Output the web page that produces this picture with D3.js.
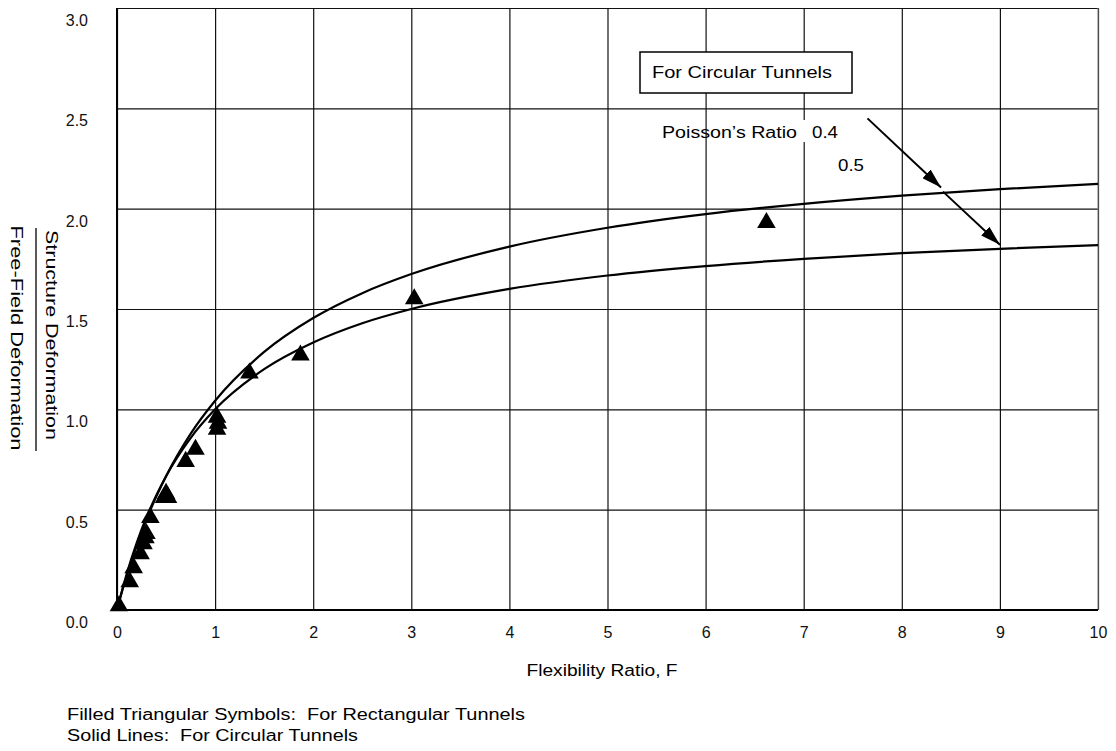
<!DOCTYPE html>
<html>
<head>
<meta charset="utf-8">
<script src="https://cdn.jsdelivr.net/npm/d3@7"></script>
<style>
  body { margin: 0; background: #fff; }
  svg { display: block; font-family: "Liberation Sans", Arial, Helvetica, sans-serif; }
</style>
</head>
<body>
<svg id="chart" width="1116" height="751"></svg>
<script>
// tick values
var xTicks = [0, 1, 2, 3, 4, 5, 6, 7, 8, 9, 10];
var yTicks = [0, 0.5, 1.0, 1.5, 2.0, 2.5, 3.0];

// solid lines (circular tunnels)
var curveF = [0, 0.05, 0.1, 0.2, 0.3, 0.4, 0.5, 0.75, 1, 1.5, 2, 2.5, 3, 4, 5, 6, 7, 8, 9, 10];
var nu04 = [0, 0.09, 0.17, 0.32, 0.45, 0.565, 0.667, 0.878, 1.043, 1.286, 1.455, 1.579, 1.674, 1.811, 1.905, 1.973, 2.024, 2.065, 2.097, 2.124];
var nu05 = [0, 0.095, 0.182, 0.333, 0.462, 0.571, 0.667, 0.857, 1.0, 1.2, 1.333, 1.429, 1.5, 1.6, 1.667, 1.714, 1.75, 1.778, 1.8, 1.818];

// filled triangles (rectangular tunnels)
var triF = [0.02, 0.13, 0.17, 0.24, 0.27, 0.29, 0.30, 0.34, 0.48, 0.50, 0.52, 0.70, 0.80, 1.02, 1.03, 1.02, 1.35, 1.87, 3.03, 6.62];
var triV = [0.02, 0.14, 0.21, 0.28, 0.33, 0.36, 0.38, 0.46, 0.56, 0.58, 0.56, 0.74, 0.80, 0.90, 0.93, 0.96, 1.18, 1.27, 1.55, 1.93];

var svg = d3.select("#chart");

var x = d3.scaleLinear().domain([0, 10]).range([117, 1098]);
var y = d3.scaleLinear().domain([0, 3]).range([610, 8]);

// helper for the wide-set labels of the scan
function label(xp, yp, str, len, anchor) {
    return svg.append("text")
        .attr("x", xp).attr("y", yp)
        .attr("font-size", 16)
        .attr("text-anchor", anchor || "start")
        .attr("textLength", len)
        .attr("lengthAdjust", "spacingAndGlyphs")
        .style("white-space", "pre")
        .text(str);
}

// x grid + labels
var gx = svg.append("g")
    .attr("transform", "translate(0," + y(0) + ")")
    .call(d3.axisBottom(x).tickValues(xTicks).tickSize(-(y(0) - y(3))).tickSizeOuter(0).tickPadding(17).tickFormat(d3.format("d")));
gx.select(".domain").remove();
gx.selectAll("line").attr("stroke", "#111").attr("stroke-width", 1.2);
gx.selectAll("text").attr("font-size", 16).attr("fill", "#111")
    .attr("font-family", "Liberation Sans, Arial, sans-serif");

// y grid + labels
var gy = svg.append("g")
    .attr("transform", "translate(" + x(0) + ",0)")
    .call(d3.axisLeft(y).tickValues(yTicks).tickSize(-(x(10) - x(0))).tickSizeOuter(0).tickPadding(29).tickFormat(d3.format(".1f")));
gy.select(".domain").remove();
gy.selectAll("line").attr("stroke", "#111").attr("stroke-width", 1.2);
gy.selectAll("text").attr("font-size", 16).attr("fill", "#111").attr("dy", "1.1em")
    .attr("font-family", "Liberation Sans, Arial, sans-serif");

// frame
svg.append("line").attr("x1", x(10)).attr("x2", x(10)).attr("y1", y(3)).attr("y2", y(0))
    .attr("stroke", "#888").attr("stroke-width", 1);
svg.append("line").attr("x1", x(0)).attr("x2", x(0)).attr("y1", y(3)).attr("y2", y(0))
    .attr("stroke", "#000").attr("stroke-width", 2);
svg.append("line").attr("x1", x(0)).attr("x2", x(10)).attr("y1", y(0)).attr("y2", y(0))
    .attr("stroke", "#000").attr("stroke-width", 2);

// curves
var line = d3.line()
    .x(function (d) { return x(d[0]); })
    .y(function (d) { return y(d[1]); })
    .curve(d3.curveMonotoneX);

[nu04, nu05].forEach(function (vals) {
    svg.append("path")
        .datum(curveF.map(function (f, i) { return [f, vals[i]]; }))
        .attr("d", line)
        .attr("fill", "none")
        .attr("stroke", "#000")
        .attr("stroke-width", 2.2);
});

// triangles
svg.selectAll(".tri")
    .data(triF.map(function (f, i) { return [f, triV[i]]; }))
    .enter().append("path")
    .attr("class", "tri")
    .attr("d", d3.symbol(d3.symbolTriangle, 150))
    .attr("transform", function (d) { return "translate(" + x(d[0]) + "," + y(d[1]) + ")"; })
    .attr("fill", "#000");

// legend box
svg.append("rect").attr("x", 640).attr("y", 52).attr("width", 212).attr("height", 41)
    .attr("fill", "#fff").attr("stroke", "#000").attr("stroke-width", 1.5);
label(652, 78, "For Circular Tunnels", 180);

// Poisson's ratio annotation
label(662, 138, "Poisson\u2019s Ratio", 135);
svg.append("rect").attr("x", 803).attr("y", 120).attr("width", 4).attr("height", 22).attr("fill", "#fff");
label(812, 138, "0.4", 26);
label(838, 171, "0.5", 26);

var defs = svg.append("defs");
defs.append("marker")
    .attr("id", "arrow")
    .attr("markerUnits", "userSpaceOnUse")
    .attr("viewBox", "0 0 20 12")
    .attr("refX", 20).attr("refY", 6)
    .attr("markerWidth", 20).attr("markerHeight", 12)
    .attr("orient", "auto")
    .append("path").attr("d", "M0,0 L20,6 L0,12 Z").attr("fill", "#000");

var arrowStart = [7.65, 2.45];
var arrowMid = [8.40, 2.105];
var arrowMid2 = [8.42, 2.085];
var arrowEnd = [9.0, 1.82];
svg.append("line")
    .attr("x1", x(arrowStart[0])).attr("y1", y(arrowStart[1]))
    .attr("x2", x(arrowMid[0])).attr("y2", y(arrowMid[1]))
    .attr("stroke", "#000").attr("stroke-width", 2).attr("marker-end", "url(#arrow)");
svg.append("line")
    .attr("x1", x(arrowMid2[0])).attr("y1", y(arrowMid2[1]))
    .attr("x2", x(arrowEnd[0])).attr("y2", y(arrowEnd[1]))
    .attr("stroke", "#000").attr("stroke-width", 2).attr("marker-end", "url(#arrow)");

// axis titles
label(602, 676, "Flexibility Ratio, F", 151, "middle");

svg.append("text").attr("transform", "translate(46,335) rotate(90)").attr("text-anchor", "middle")
    .attr("font-size", 16).attr("textLength", 210).attr("lengthAdjust", "spacingAndGlyphs")
    .text("Structure Deformation");
svg.append("line").attr("x1", 36).attr("x2", 36).attr("y1", 228).attr("y2", 451)
    .attr("stroke", "#000").attr("stroke-width", 1.3);
svg.append("text").attr("transform", "translate(11,338) rotate(90)").attr("text-anchor", "middle")
    .attr("font-size", 16).attr("textLength", 225).attr("lengthAdjust", "spacingAndGlyphs")
    .text("Free-Field Deformation");

// notes
label(67, 720, "Filled Triangular Symbols:  For Rectangular Tunnels", 458);
label(67, 741, "Solid Lines:  For Circular Tunnels", 291);
</script>
</body>
</html>
